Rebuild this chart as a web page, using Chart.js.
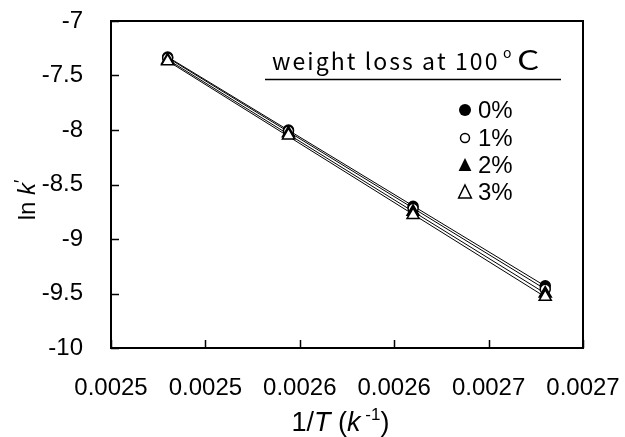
<!DOCTYPE html>
<html>
<head>
<meta charset="utf-8">
<script src="https://cdn.jsdelivr.net/npm/chart.js@4.4.1/dist/chart.umd.min.js"></script>
<style>
  html, body { margin: 0; padding: 0; background: #fff; }
  #wrap { width: 625px; height: 437px; }
</style>
</head>
<body>
<div id="wrap"><canvas id="c" width="625" height="437"></canvas></div>
<script>
// Arrhenius data: 1/T (K^-1) against ln k' for four weight-loss levels
const invT  = [0.002480, 0.002544, 0.002610, 0.002680];
const lnK0  = [-7.33, -8.00, -8.70, -9.43];
const lnK1  = [-7.34, -8.01, -8.72, -9.46];
const lnK2  = [-7.36, -8.03, -8.75, -9.50];
const lnK3  = [-7.37, -8.05, -8.78, -9.53];
const seriesNames = ['0%', '1%', '2%', '3%'];

const xTickValues = [0.00245, 0.0025, 0.00255, 0.0026, 0.00265, 0.0027];
const xTickLabels = ['0.0025', '0.0025', '0.0026', '0.0026', '0.0027', '0.0027'];
const yTickValues = [-10, -9.5, -9, -8.5, -8, -7.5, -7];
const yTickLabels = ['-10', '-9.5', '-9', '-8.5', '-8', '-7.5', '-7'];

const SANS = '"Liberation Sans", Arial, sans-serif';
const GOTHIC = '"Noto Sans CJK JP", "Noto Sans", sans-serif';

// marker look for each series: filled circle, open circle, filled triangle, open triangle
const markerStyles = [
  { shape: 'circle',   fill: '#000', radius: 5 },
  { shape: 'circle',   fill: '#fff', radius: 5 },
  { shape: 'triangle', fill: '#000', radius: 7 },
  { shape: 'triangle', fill: '#fff', radius: 7 }
];
const allSeries = [lnK0, lnK1, lnK2, lnK3];

// least-squares straight line through each series, drawn between first and last x
function fitLine(xs, ys) {
  const n = xs.length;
  const mx = xs.reduce((a, b) => a + b, 0) / n;
  const my = ys.reduce((a, b) => a + b, 0) / n;
  let sxy = 0, sxx = 0;
  for (let i = 0; i < n; i++) { sxy += (xs[i] - mx) * (ys[i] - my); sxx += (xs[i] - mx) ** 2; }
  const b = sxy / sxx, a = my - b * mx;
  const x0 = xs[0], x1 = xs[n - 1];
  return [{ x: x0, y: a + b * x0 }, { x: x1, y: a + b * x1 }];
}

const datasets = [];
allSeries.forEach((ys, i) => {
  datasets.push({
    label: seriesNames[i] + ' fit',
    data: fitLine(invT, ys),
    showLine: true,
    borderColor: '#000',
    borderWidth: 1,
    pointRadius: 0,
    order: 10
  });
});
allSeries.forEach((ys, i) => {
  const m = markerStyles[i];
  datasets.push({
    label: seriesNames[i],
    data: invT.map((x, j) => ({ x: x, y: ys[j] })),
    showLine: false,
    pointStyle: m.shape,
    pointRadius: m.radius,
    pointBackgroundColor: m.fill,
    pointBorderColor: '#000',
    pointBorderWidth: 1.5,
    order: 4 - i
  });
});

// keep the plot box fixed: no extra room reserved for overhanging tick labels
function noOverhang(s) {
  s.paddingTop = 0; s.paddingBottom = 0; s.paddingLeft = 0; s.paddingRight = 0;
}

// frame, inward tick marks, legend block and axis titles
const decorations = {
  id: 'decorations',
  afterDatasetsDraw(chart) {
    const ctx = chart.ctx;
    const a = chart.chartArea;
    const xs = chart.scales.x, ys = chart.scales.y;
    ctx.save();
    ctx.strokeStyle = '#000';
    ctx.lineWidth = 2;
    ctx.strokeRect(a.left, a.top, a.right - a.left, a.bottom - a.top);
    ctx.lineWidth = 1.5;
    ctx.beginPath();
    xTickValues.forEach(v => {
      const px = Math.round(xs.getPixelForValue(v)) + 0.5;
      ctx.moveTo(px, a.bottom);
      ctx.lineTo(px, a.bottom - 8);
    });
    yTickValues.forEach(v => {
      const py = Math.round(ys.getPixelForValue(v)) + 0.5;
      ctx.moveTo(a.left, py);
      ctx.lineTo(a.left + 8, py);
    });
    ctx.stroke();
    ctx.restore();
  },
  afterDraw(chart) {
    const ctx = chart.ctx;
    ctx.save();
    ctx.fillStyle = '#000';
    ctx.strokeStyle = '#000';
    ctx.textBaseline = 'alphabetic';
    ctx.textAlign = 'left';

    // legend heading with underline
    const heading = 'weight loss at 100';
    ctx.font = '23px ' + GOTHIC;
    const natural = ctx.measureText(heading).width;
    const spacing = Math.max(0, (225 - natural) / (heading.length - 1));
    let hx = 272;
    for (const ch of heading) {
      ctx.fillText(ch, hx, 70);
      hx += ctx.measureText(ch).width + spacing;
    }
    ctx.font = '14px ' + GOTHIC;
    ctx.fillText('o', 503, 58);
    ctx.save();
    ctx.translate(517, 70);
    ctx.scale(1.3, 1);
    ctx.font = '27px ' + GOTHIC;
    ctx.fillText('C', 0, 0);
    ctx.restore();
    ctx.lineWidth = 1.5;
    ctx.beginPath();
    ctx.moveTo(265, 79.5);
    ctx.lineTo(561, 79.5);
    ctx.stroke();

    // legend entries
    const rows = [110, 138, 165, 192];
    const legendMarkers = [
      { shape: 'circle', fill: true, r: 6 },
      { shape: 'circle', fill: false, r: 4.5 },
      { shape: 'triangle', fill: true, r: 8 },
      { shape: 'triangle', fill: false, r: 8 }
    ];
    legendMarkers.forEach((m, i) => {
      const cx = 465, cy = rows[i];
      ctx.beginPath();
      if (m.shape === 'circle') {
        ctx.arc(cx, cy, m.r, 0, Math.PI * 2);
      } else {
        const h = m.r * 0.75;
        ctx.moveTo(cx, cy - m.r + 1);
        ctx.lineTo(cx + m.r * 0.8, cy + h);
        ctx.lineTo(cx - m.r * 0.8, cy + h);
        ctx.closePath();
      }
      ctx.lineWidth = 1.5;
      if (m.fill) { ctx.fillStyle = '#000'; ctx.fill(); }
      else { ctx.fillStyle = '#fff'; ctx.fill(); ctx.stroke(); }
      ctx.fillStyle = '#000';
      ctx.font = '24px ' + SANS;
      ctx.textBaseline = 'middle';
      ctx.fillText(seriesNames[i], 478, cy + 1);
      ctx.textBaseline = 'alphabetic';
    });

    // x-axis title: 1/T (k^-1)
    const xRuns = [
      { t: '1/', f: '27px ' + SANS, dy: 0 },
      { t: 'T', f: 'italic 27px ' + SANS, dy: 0 },
      { t: ' (', f: '27px ' + SANS, dy: 0 },
      { t: 'k', f: 'italic 27px ' + SANS, dy: 0 },
      { t: ' -1', f: '17px ' + SANS, dy: -11 },
      { t: ')', f: '27px ' + SANS, dy: 0 }
    ];
    drawRuns(ctx, xRuns, 340.5, 431);

    // y-axis title: ln k'
    ctx.translate(35, 200);
    ctx.rotate(-Math.PI / 2);
    const yRuns = [
      { t: 'ln ', f: '24px ' + SANS, dy: 0 },
      { t: 'k', f: 'italic 24px ' + SANS, dy: 0 },
      { t: '\u2032', f: '18px ' + SANS, dy: -8 }
    ];
    drawRuns(ctx, yRuns, 0, 0);
    ctx.restore();
  }
};

function drawRuns(ctx, runs, cx, baseline) {
  let w = 0;
  runs.forEach(r => { ctx.font = r.f; w += ctx.measureText(r.t).width; });
  let x = cx - w / 2;
  runs.forEach(r => {
    ctx.font = r.f;
    ctx.fillText(r.t, x, baseline + r.dy);
    x += ctx.measureText(r.t).width;
  });
}

new Chart(document.getElementById('c'), {
  type: 'scatter',
  data: { datasets: datasets },
  options: {
    responsive: false,
    devicePixelRatio: 1,
    animation: false,
    events: [],
    layout: { padding: { top: 21, right: 42, left: 0, bottom: 0 } },
    plugins: { legend: { display: false }, tooltip: { enabled: false } },
    scales: {
      x: {
        type: 'linear',
        min: 0.00245,
        max: 0.0027,
        afterBuildTicks: s => { s.ticks = xTickValues.map(v => ({ value: v })); },
        afterFit: s => { s.height = 89; noOverhang(s); },
        grid: { display: false },
        border: { display: false },
        ticks: {
          autoSkip: false,
          maxRotation: 0,
          padding: 18,
          color: '#000',
          font: { family: SANS, size: 24 },
          callback: (v, i) => xTickLabels[i]
        }
      },
      y: {
        type: 'linear',
        min: -10,
        max: -7,
        afterBuildTicks: s => { s.ticks = yTickValues.map(v => ({ value: v })); },
        afterFit: s => { s.width = 111; noOverhang(s); },
        grid: { display: false },
        border: { display: false },
        ticks: {
          autoSkip: false,
          padding: 20,
          color: '#000',
          font: { family: SANS, size: 24 },
          callback: (v, i) => yTickLabels[i]
        }
      }
    }
  },
  plugins: [decorations]
});
</script>
</body>
</html>
